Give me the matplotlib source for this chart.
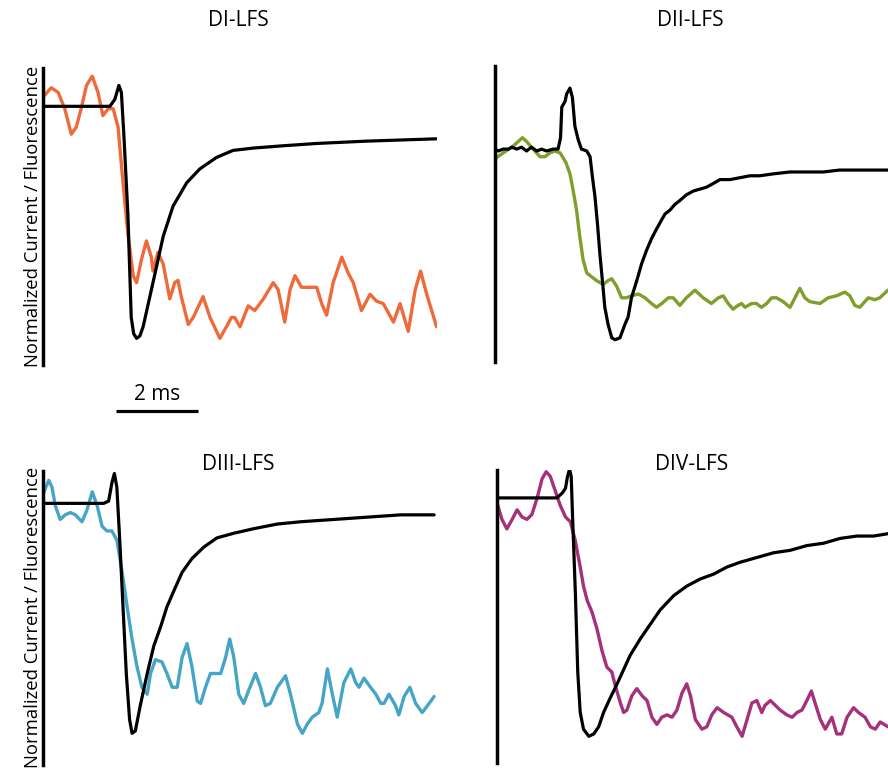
import matplotlib
matplotlib.use("Agg")
from matplotlib import pyplot as plt

plt.rcParams['font.family'] = ['Open Sans', 'DejaVu Sans']

# DI-LFS : time (ms), normalized current / fluorescence
t_i_cur = [0.00, 1.63, 1.75, 1.85, 1.91, 1.97, 2.07, 2.15, 2.21, 2.28, 2.36, 2.44, 2.68, 2.93, 3.17,
           3.50, 3.82, 4.23, 4.63, 5.12, 5.85, 6.67, 7.89, 9.59]
i_cur = [0.00, 0.00, 0.03, 0.09, 0.06, -0.12, -0.47, -0.91, -0.98, -1.00, -0.99, -0.95, -0.76, -0.56, -0.43,
         -0.33, -0.27, -0.22, -0.19, -0.18, -0.17, -0.16, -0.15, -0.14]
t_i_fl = [0.00, 0.20, 0.37, 0.53, 0.69, 0.81, 0.93, 1.06, 1.20, 1.34, 1.46, 1.59, 1.71, 1.83, 1.95,
          2.07, 2.20, 2.28, 2.40, 2.52, 2.64, 2.68, 2.80, 2.93, 3.09, 3.21, 3.29, 3.37, 3.54, 3.66,
          3.90, 4.07, 4.31, 4.47, 4.59, 4.67, 4.80, 5.00, 5.16, 5.37, 5.61, 5.73, 5.89, 6.02, 6.14,
          6.30, 6.50, 6.67, 6.79, 6.91, 7.07, 7.28, 7.44, 7.56, 7.76, 7.97, 8.13, 8.29, 8.54, 8.70,
          8.90, 9.07, 9.20, 9.35, 9.59]
i_fl = [0.04, 0.08, 0.06, -0.01, -0.12, -0.09, -0.01, 0.09, 0.13, 0.06, -0.04, -0.01, -0.01, -0.09, -0.33,
        -0.55, -0.73, -0.76, -0.66, -0.58, -0.65, -0.71, -0.63, -0.68, -0.83, -0.76, -0.75, -0.82, -0.94, -0.91,
        -0.82, -0.91, -1.00, -0.95, -0.91, -0.91, -0.95, -0.86, -0.88, -0.83, -0.76, -0.79, -0.93, -0.79, -0.73,
        -0.78, -0.78, -0.78, -0.85, -0.90, -0.76, -0.65, -0.72, -0.76, -0.88, -0.81, -0.84, -0.85, -0.93, -0.85,
        -0.97, -0.79, -0.71, -0.81, -0.95]

# DII-LFS
t_ii_cur = [0.00, 0.08, 0.20, 0.33, 0.41, 0.53, 0.65, 0.77, 0.89, 1.02, 1.14, 1.26, 1.42, 1.54, 1.60,
            1.63, 1.71, 1.75, 1.83, 1.89, 1.95, 2.03, 2.11, 2.24, 2.32, 2.38, 2.44, 2.50, 2.56, 2.63,
            2.68, 2.76, 2.85, 2.93, 3.05, 3.17, 3.25, 3.33, 3.46, 3.58, 3.70, 3.82, 3.94, 4.07, 4.15,
            4.27, 4.39, 4.51, 4.67, 4.84, 5.00, 5.16, 5.33, 5.49, 5.73, 5.98, 6.22, 6.46, 6.79, 7.20,
            7.60, 8.01, 8.41, 8.82, 9.23, 9.59]
ii_cur = [0.00, -0.01, 0.00, 0.00, 0.01, 0.00, 0.01, -0.01, 0.01, -0.01, 0.00, -0.01, 0.00, 0.00, 0.06,
          0.22, 0.25, 0.29, 0.32, 0.27, 0.12, 0.05, 0.00, -0.01, -0.04, -0.15, -0.25, -0.39, -0.55, -0.71,
          -0.83, -0.92, -0.99, -1.00, -0.99, -0.92, -0.88, -0.78, -0.69, -0.60, -0.53, -0.47, -0.42, -0.37, -0.34,
          -0.32, -0.29, -0.27, -0.24, -0.22, -0.21, -0.20, -0.18, -0.16, -0.16, -0.15, -0.14, -0.14, -0.13, -0.12,
          -0.12, -0.12, -0.11, -0.11, -0.11, -0.11]
t_ii_fl = [0.00, 0.20, 0.41, 0.57, 0.67, 0.77, 0.93, 1.10, 1.22, 1.34, 1.46, 1.59, 1.73, 1.83, 1.91,
           1.99, 2.07, 2.15, 2.24, 2.36, 2.48, 2.64, 2.76, 2.85, 2.97, 3.09, 3.21, 3.33, 3.50, 3.66,
           3.82, 3.94, 4.07, 4.23, 4.35, 4.51, 4.67, 4.88, 5.08, 5.28, 5.45, 5.57, 5.69, 5.81, 5.93,
           6.02, 6.10, 6.26, 6.38, 6.50, 6.63, 6.75, 6.87, 7.03, 7.20, 7.32, 7.44, 7.56, 7.68, 7.93,
           8.13, 8.33, 8.54, 8.66, 8.78, 8.90, 9.11, 9.27, 9.39, 9.59]
ii_fl = [-0.05, -0.02, 0.01, 0.04, 0.06, 0.04, 0.00, -0.04, -0.04, -0.02, -0.01, -0.02, -0.07, -0.13, -0.22,
         -0.32, -0.46, -0.58, -0.65, -0.67, -0.69, -0.71, -0.69, -0.68, -0.72, -0.78, -0.78, -0.77, -0.76, -0.78,
         -0.81, -0.83, -0.81, -0.78, -0.78, -0.82, -0.78, -0.74, -0.78, -0.81, -0.78, -0.77, -0.81, -0.84, -0.82,
         -0.81, -0.83, -0.81, -0.81, -0.83, -0.81, -0.78, -0.78, -0.80, -0.83, -0.78, -0.73, -0.78, -0.80, -0.81,
         -0.78, -0.77, -0.75, -0.77, -0.82, -0.83, -0.78, -0.79, -0.78, -0.74]

# DIII-LFS
t_iii_cur = [0.00, 0.59, 1.07, 1.48, 1.60, 1.68, 1.74, 1.80, 1.87, 1.95, 2.03, 2.11, 2.17, 2.25, 2.37,
             2.54, 2.70, 2.86, 3.02, 3.19, 3.39, 3.63, 3.92, 4.24, 4.65, 5.14, 5.71, 6.28, 7.09, 7.90,
             8.72, 9.53]
iii_cur = [0.00, 0.00, 0.00, 0.00, 0.01, 0.09, 0.13, 0.07, -0.16, -0.45, -0.74, -0.94, -1.00, -0.99, -0.88,
           -0.74, -0.62, -0.54, -0.45, -0.38, -0.30, -0.24, -0.19, -0.15, -0.13, -0.11, -0.09, -0.08, -0.07, -0.06,
           -0.05, -0.05]
t_iii_fl = [0.00, 0.14, 0.22, 0.30, 0.42, 0.54, 0.67, 0.79, 0.95, 1.07, 1.20, 1.32, 1.44, 1.56, 1.68,
            1.80, 1.93, 2.05, 2.17, 2.29, 2.41, 2.54, 2.62, 2.74, 2.90, 3.02, 3.15, 3.27, 3.39, 3.51,
            3.63, 3.76, 3.84, 3.96, 4.08, 4.24, 4.33, 4.45, 4.55, 4.65, 4.77, 4.89, 5.02, 5.18, 5.30,
            5.42, 5.54, 5.71, 5.91, 6.03, 6.20, 6.32, 6.44, 6.56, 6.72, 6.80, 6.93, 7.05, 7.17, 7.33,
            7.50, 7.62, 7.70, 7.82, 7.98, 8.11, 8.23, 8.31, 8.43, 8.59, 8.67, 8.80, 8.94, 9.08, 9.24,
            9.41, 9.53]
iii_fl = [0.04, 0.10, 0.07, -0.01, -0.07, -0.05, -0.04, -0.05, -0.08, -0.03, 0.05, -0.01, -0.10, -0.12, -0.12,
          -0.16, -0.30, -0.45, -0.59, -0.71, -0.80, -0.83, -0.74, -0.68, -0.69, -0.74, -0.80, -0.80, -0.67, -0.61,
          -0.71, -0.86, -0.87, -0.80, -0.74, -0.74, -0.74, -0.67, -0.59, -0.67, -0.83, -0.87, -0.81, -0.74, -0.80,
          -0.88, -0.87, -0.80, -0.75, -0.83, -0.96, -1.00, -0.96, -0.93, -0.91, -0.87, -0.72, -0.83, -0.93, -0.78,
          -0.72, -0.78, -0.80, -0.76, -0.80, -0.83, -0.87, -0.87, -0.83, -0.88, -0.92, -0.84, -0.80, -0.87, -0.91,
          -0.87, -0.84]

# DIV-LFS
t_iv_cur = [0.00, 0.24, 0.65, 1.06, 1.46, 1.59, 1.67, 1.72, 1.77, 1.81, 1.85, 1.91, 1.97, 2.03, 2.11,
            2.24, 2.36, 2.48, 2.60, 2.76, 2.93, 3.09, 3.25, 3.50, 3.74, 3.98, 4.31, 4.63, 4.96, 5.28,
            5.61, 5.93, 6.34, 6.75, 7.15, 7.56, 7.97, 8.37, 8.78, 9.19, 9.54]
iv_cur = [0.00, 0.00, 0.00, 0.00, 0.00, 0.02, 0.04, 0.09, 0.12, 0.09, -0.11, -0.39, -0.73, -0.90, -0.97,
          -1.00, -0.99, -0.96, -0.90, -0.84, -0.78, -0.72, -0.66, -0.59, -0.53, -0.47, -0.41, -0.37, -0.34, -0.32,
          -0.29, -0.27, -0.25, -0.23, -0.22, -0.20, -0.19, -0.17, -0.16, -0.16, -0.15]
t_iv_fl = [0.00, 0.12, 0.24, 0.37, 0.49, 0.61, 0.73, 0.85, 0.98, 1.10, 1.20, 1.30, 1.42, 1.54, 1.67,
           1.79, 1.91, 2.03, 2.11, 2.20, 2.32, 2.44, 2.56, 2.68, 2.80, 2.89, 3.01, 3.09, 3.17, 3.29,
           3.41, 3.54, 3.66, 3.78, 3.90, 4.02, 4.15, 4.27, 4.39, 4.51, 4.63, 4.72, 4.84, 5.00, 5.12,
           5.24, 5.37, 5.53, 5.73, 5.85, 5.98, 6.10, 6.22, 6.34, 6.46, 6.54, 6.67, 6.79, 6.91, 7.07,
           7.20, 7.32, 7.44, 7.56, 7.67, 7.76, 7.89, 8.01, 8.17, 8.29, 8.41, 8.54, 8.70, 8.82, 8.98,
           9.11, 9.23, 9.35, 9.54]
iv_fl = [-0.02, -0.09, -0.13, -0.09, -0.05, -0.08, -0.09, -0.07, 0.00, 0.08, 0.11, 0.09, 0.03, -0.03, -0.08,
         -0.10, -0.18, -0.29, -0.37, -0.43, -0.48, -0.55, -0.64, -0.71, -0.73, -0.79, -0.86, -0.90, -0.89, -0.83,
         -0.80, -0.83, -0.85, -0.92, -0.95, -0.92, -0.91, -0.92, -0.89, -0.82, -0.78, -0.83, -0.93, -0.97, -0.96,
         -0.91, -0.88, -0.90, -0.92, -0.96, -1.00, -0.93, -0.86, -0.85, -0.90, -0.87, -0.85, -0.87, -0.89, -0.91,
         -0.92, -0.90, -0.89, -0.85, -0.81, -0.86, -0.93, -0.97, -0.92, -0.99, -0.99, -0.92, -0.88, -0.90, -0.92,
         -0.96, -0.97, -0.94, -0.96]

panels = [
    # title, axes rect, ylim, xmax, current, fluorescence, colour
    ("DI-LFS", [0.0484, 0.5247, 0.4437, 0.3867], (-1.115, 0.165), 9.6,
     (t_i_cur, i_cur), (t_i_fl, i_fl), "#EF6A3A"),
    ("DII-LFS", [0.5574, 0.5286, 0.4426, 0.3855], (-1.117, 0.436), 9.59,
     (t_ii_cur, ii_cur), (t_ii_fl, ii_fl), "#7F9F2A"),
    ("DIII-LFS", [0.0484, 0.0039, 0.4437, 0.3832], (-1.138, 0.142), 9.6,
     (t_iii_cur, iii_cur), (t_iii_fl, iii_fl), "#45A5C6"),
    ("DIV-LFS", [0.5597, 0.0065, 0.4403, 0.3815], (-1.112, 0.117), 9.54,
     (t_iv_cur, iv_cur), (t_iv_fl, iv_fl), "#A5307B"),
]
title_pos = [(238, 21), (690, 21), (238, 464), (692, 464)]

fig = plt.figure(figsize=(8.88, 7.68), dpi=100, facecolor="white")

axes = []
for (title, rect, ylim, xmax, cur, fl, col), (tx, ty) in zip(panels, title_pos):
    ax = fig.add_axes(rect)
    ax.plot(fl[0], fl[1], color=col, lw=2.4, solid_joinstyle="round", solid_capstyle="round")
    ax.plot(cur[0], cur[1], color="black", lw=2.3, solid_joinstyle="round", solid_capstyle="round")
    ax.set_xlim(0, xmax)
    ax.set_ylim(*ylim)
    for s in ["top", "right", "bottom"]:
        ax.spines[s].set_visible(False)
    ax.spines["left"].set_linewidth(2.5)
    ax.set_xticks([])
    ax.set_yticks([])
    ax.patch.set_alpha(0)
    fig.text(tx / 888, 1 - ty / 768, title, ha="center", va="center", fontsize=15)
    axes.append(ax)

# y labels on left column
for ax in (axes[0], axes[2]):
    ax.set_ylabel("Normalized Current / Fluorescence", fontsize=13.3, labelpad=1)

# 2 ms scale bar under DI-LFS
ax = axes[0]
ax.plot([1.78, 3.78], [-1.312, -1.312], color="black", lw=2.3, clip_on=False, solid_capstyle="butt")
ax.text(2.78, -1.24, "2 ms", ha="center", va="center", fontsize=15)

fig.savefig("out.png", dpi=100, facecolor="white")
